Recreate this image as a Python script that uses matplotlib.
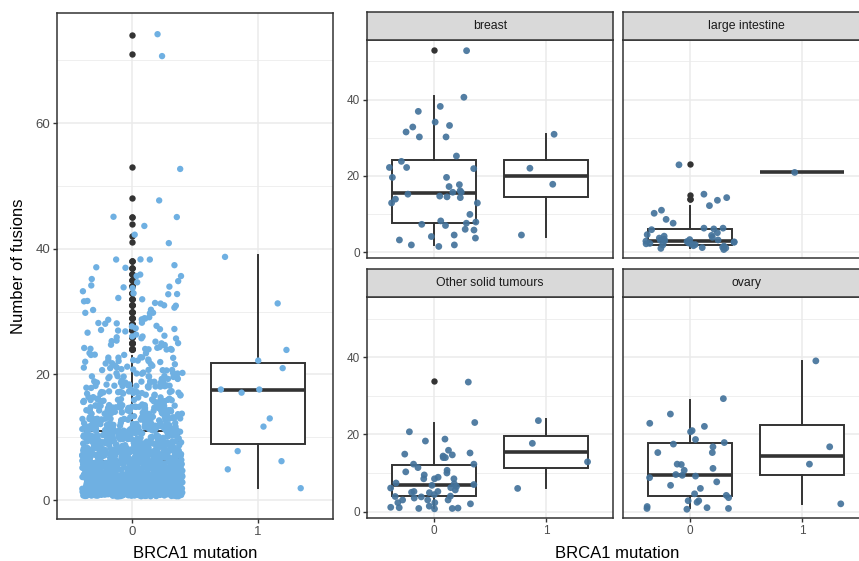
import numpy as np
import matplotlib.pyplot as plt

plt.rcParams['font.family'] = ['Liberation Sans', 'DejaVu Sans']

# ---- data ----------------------------------------------------------------
# all tumours, BRCA1 wild type: number of samples at each fusion count 1..38
all_wt_values = list(range(1, 39))
all_wt_counts = [170, 160, 145, 125, 100, 90, 80, 70, 62, 55,
                 48, 42, 37, 33, 29, 25, 22, 19, 17, 15,
                 13, 12, 10, 9, 8, 7, 7, 6, 5, 5,
                 5, 4, 4, 4, 3, 3, 3, 3]
all_wt_tail = [41, 42, 44, 45, 45, 48, 53, 71, 74]
# all tumours, BRCA1 mutated (as drawn)
all_mut = [38.7, 31.3, 23.9, 22.2, 21.0, 17.6, 17.6, 17.1, 13.0, 11.7,
           7.8, 6.2, 4.9, 1.9]

facet_names = ['breast', 'large intestine', 'Other solid tumours', 'ovary']

breast_wt = [52.8, 40.6, 38.2, 36.9, 34.1, 33.2, 32.8, 31.5, 30.2, 30.2,
             25.2, 23.8, 22.2, 22.2, 21.9, 19.6, 19.6, 17.7, 17.2, 16.1,
             15.7, 15.7, 15.2, 14.7, 14.5, 14.3, 13.9, 12.9, 12.9, 9.9,
             8.2, 7.9, 7.6, 7.3, 7.0, 6.0, 5.8, 4.5, 4.1, 3.7,
             3.2, 1.9, 1.9, 1.5]
breast_mut = [22.0, 17.8, 30.9, 4.5]

intestine_wt = [0.7, 1.0, 1.1, 1.2, 1.3, 1.6, 1.7, 1.9, 2.0, 2.1,
                2.2, 2.3, 2.4, 2.6, 2.7, 2.8, 2.9, 3.0, 3.1, 3.2,
                3.3, 3.4, 3.7, 3.9, 4.2, 4.4, 4.6, 5.1, 5.9, 6.1,
                6.3, 6.3, 7.6, 8.6, 10.2, 11.0, 12.2, 13.6, 14.3, 15.2,
                22.9]
intestine_mut = [20.9]

other_wt = [33.6, 23.1, 20.7, 18.8, 18.3, 15.9, 15.2, 14.9, 14.7, 14.4,
            14.0, 14.0, 12.3, 12.3, 11.4, 10.7, 10.3, 10.0, 9.5, 8.9,
            8.5, 8.5, 8.5, 7.4, 7.2, 7.0, 6.8, 6.5, 6.2, 6.1,
            5.6, 5.2, 5.2, 5.0, 4.9, 4.4, 4.0, 3.9, 3.8, 3.5,
            3.0, 3.0, 3.0, 2.3, 2.3, 2.0, 1.4, 1.1, 1.0, 0.9,
            0.8, 0.8, 0.7]
other_mut = [12.9, 23.6, 17.7, 6.0]

ovary_wt = [29.3, 25.3, 22.9, 22.1, 21.0, 20.7, 18.7, 17.9, 17.5, 16.8,
            15.3, 15.3, 12.3, 12.2, 11.2, 10.7, 9.4, 9.6, 9.2, 8.8,
            7.7, 6.8, 6.0, 4.6, 4.2, 3.6, 2.8, 2.8, 2.4, 1.3,
            1.0, 0.8, 0.8, 0.6]
ovary_mut = [39.1, 16.8, 12.3, 2.0]

facet_wt = [breast_wt, intestine_wt, other_wt, ovary_wt]
facet_mut = [breast_mut, intestine_mut, other_mut, ovary_mut]

# ---- style ---------------------------------------------------------------
W, H = 859, 561
dark = '#333333'
tick_col = '#4d4d4d'
grid_col = '#ebebeb'
light_blue = '#6fb0e2'
steel_blue = '#44739b'


def frac_hash(i, seed):
    # deterministic hash in [0, 1), used only for jitter offsets
    v = np.sin(i * 12.9898 + seed * 78.233) * 43758.5453
    return v - np.floor(v)


def jitter(n, start=0):
    # width / height 0.4 like geom_jitter
    i = np.arange(start, start + n) + 1.0
    dx = (frac_hash(i, 1.0) - 0.5) * 0.8
    dy = (frac_hash(i, 2.0) - 0.5) * 0.8
    return dx, dy


def box(ax, data, pos):
    ax.boxplot([data], positions=[pos], widths=0.75, whis=1.5,
               patch_artist=True, showcaps=False, manage_ticks=False,
               boxprops=dict(facecolor='white', edgecolor=dark, linewidth=1.4),
               whiskerprops=dict(color=dark, linewidth=1.4),
               medianprops=dict(color=dark, linewidth=2.6),
               flierprops=dict(marker='o', markerfacecolor=dark,
                               markeredgecolor='none', markersize=4.6),
               zorder=2)


def style(ax, ylim, xlabels=True, ylabels=True, yticks=(0, 20, 40)):
    ax.set_xlim(-0.6, 1.6)
    ax.set_ylim(*ylim)
    ax.set_xticks([0, 1])
    ax.set_yticks(list(yticks))
    ax.set_yticks([t + 10 for t in yticks], minor=True)
    ax.grid(True, which='major', color=grid_col, linewidth=1.1, zorder=0)
    ax.grid(True, which='minor', axis='y', color=grid_col, linewidth=0.55, zorder=0)
    ax.set_axisbelow(True)
    for s in ax.spines.values():
        s.set_color(dark)
        s.set_linewidth(1.1)
    ax.tick_params(which='minor', length=0)
    ax.tick_params(which='major', length=3, width=1, color=dark,
                   labelcolor=tick_col, labelsize=9.5, pad=2)
    if not xlabels:
        ax.tick_params(axis='x', length=0, labelbottom=False)
    if not ylabels:
        ax.tick_params(axis='y', length=0, labelleft=False)


def fig_axes(x0, y0, x1, y1):
    return fig.add_axes([x0 / W, 1 - y1 / H, (x1 - x0) / W, (y1 - y0) / H])


fig = plt.figure(figsize=(W / 100, H / 100), dpi=100)

# ---- left panel: all tumours ------------------------------------------------
ax = fig_axes(57, 13, 333, 519)
wt_all = np.repeat(all_wt_values, all_wt_counts)
wt_all = np.concatenate([wt_all, all_wt_tail]).astype(float)
box(ax, wt_all, 0)
box(ax, np.round(all_mut), 1)
dx, dy = jitter(len(wt_all))
ax.scatter(dx, wt_all + dy, s=21, color=light_blue, edgecolors='none', zorder=3)
dx, _ = jitter(len(all_mut), 5000)
ax.scatter(1 + dx, all_mut, s=21, color=light_blue, edgecolors='none', zorder=3)
style(ax, (-3.0, 77.5), yticks=(0, 20, 40, 60))
ax.set_yticks([10, 30, 50, 70], minor=True)
fig.text(195 / W, 1 - 553 / H, 'BRCA1 mutation', ha='center', va='center', fontsize=12)
fig.text(19 / W, 1 - 266 / H, 'Number of fusions', ha='center', va='center',
         rotation=90, fontsize=12)

# ---- facets ------------------------------------------------------------------
cols = [(366.7, 613.3), (622.7, 869.3)]
rows = [(11.7, 40, 258.3), (269.3, 297.3, 517.7)]
for k, name in enumerate(facet_names):
    r, c = divmod(k, 2)
    x0, x1 = cols[c]
    st, pt, pb = rows[r]
    ax = fig_axes(x0, pt, x1, pb)
    wt = np.array(facet_wt[k])
    mut = np.array(facet_mut[k])
    box(ax, np.round(wt), 0)
    box(ax, np.round(mut), 1)
    dx, _ = jitter(len(wt), 6000 + 100 * k)
    ax.scatter(dx, wt, s=24, color=steel_blue, alpha=0.92, edgecolors='none', zorder=3)
    dx, _ = jitter(len(mut), 7000 + 100 * k)
    ax.scatter(1 + dx, mut, s=24, color=steel_blue, alpha=0.92, edgecolors='none', zorder=3)
    style(ax, (-1.6, 55.6), xlabels=(r == 1), ylabels=(c == 0))
    ax.tick_params(labelsize=8.5)

    sax = fig_axes(x0, st, x1, pt)
    sax.set_facecolor('#d9d9d9')
    sax.set_xticks([])
    sax.set_yticks([])
    for s in sax.spines.values():
        s.set_color(dark)
        s.set_linewidth(1.1)
    sax.text(0.5, 0.5, name, ha='center', va='center', fontsize=8.8,
             color='#1a1a1a', transform=sax.transAxes)

fig.text(617 / W, 1 - 553 / H, 'BRCA1 mutation', ha='center', va='center', fontsize=12)

fig.savefig('out.png', dpi=100)
